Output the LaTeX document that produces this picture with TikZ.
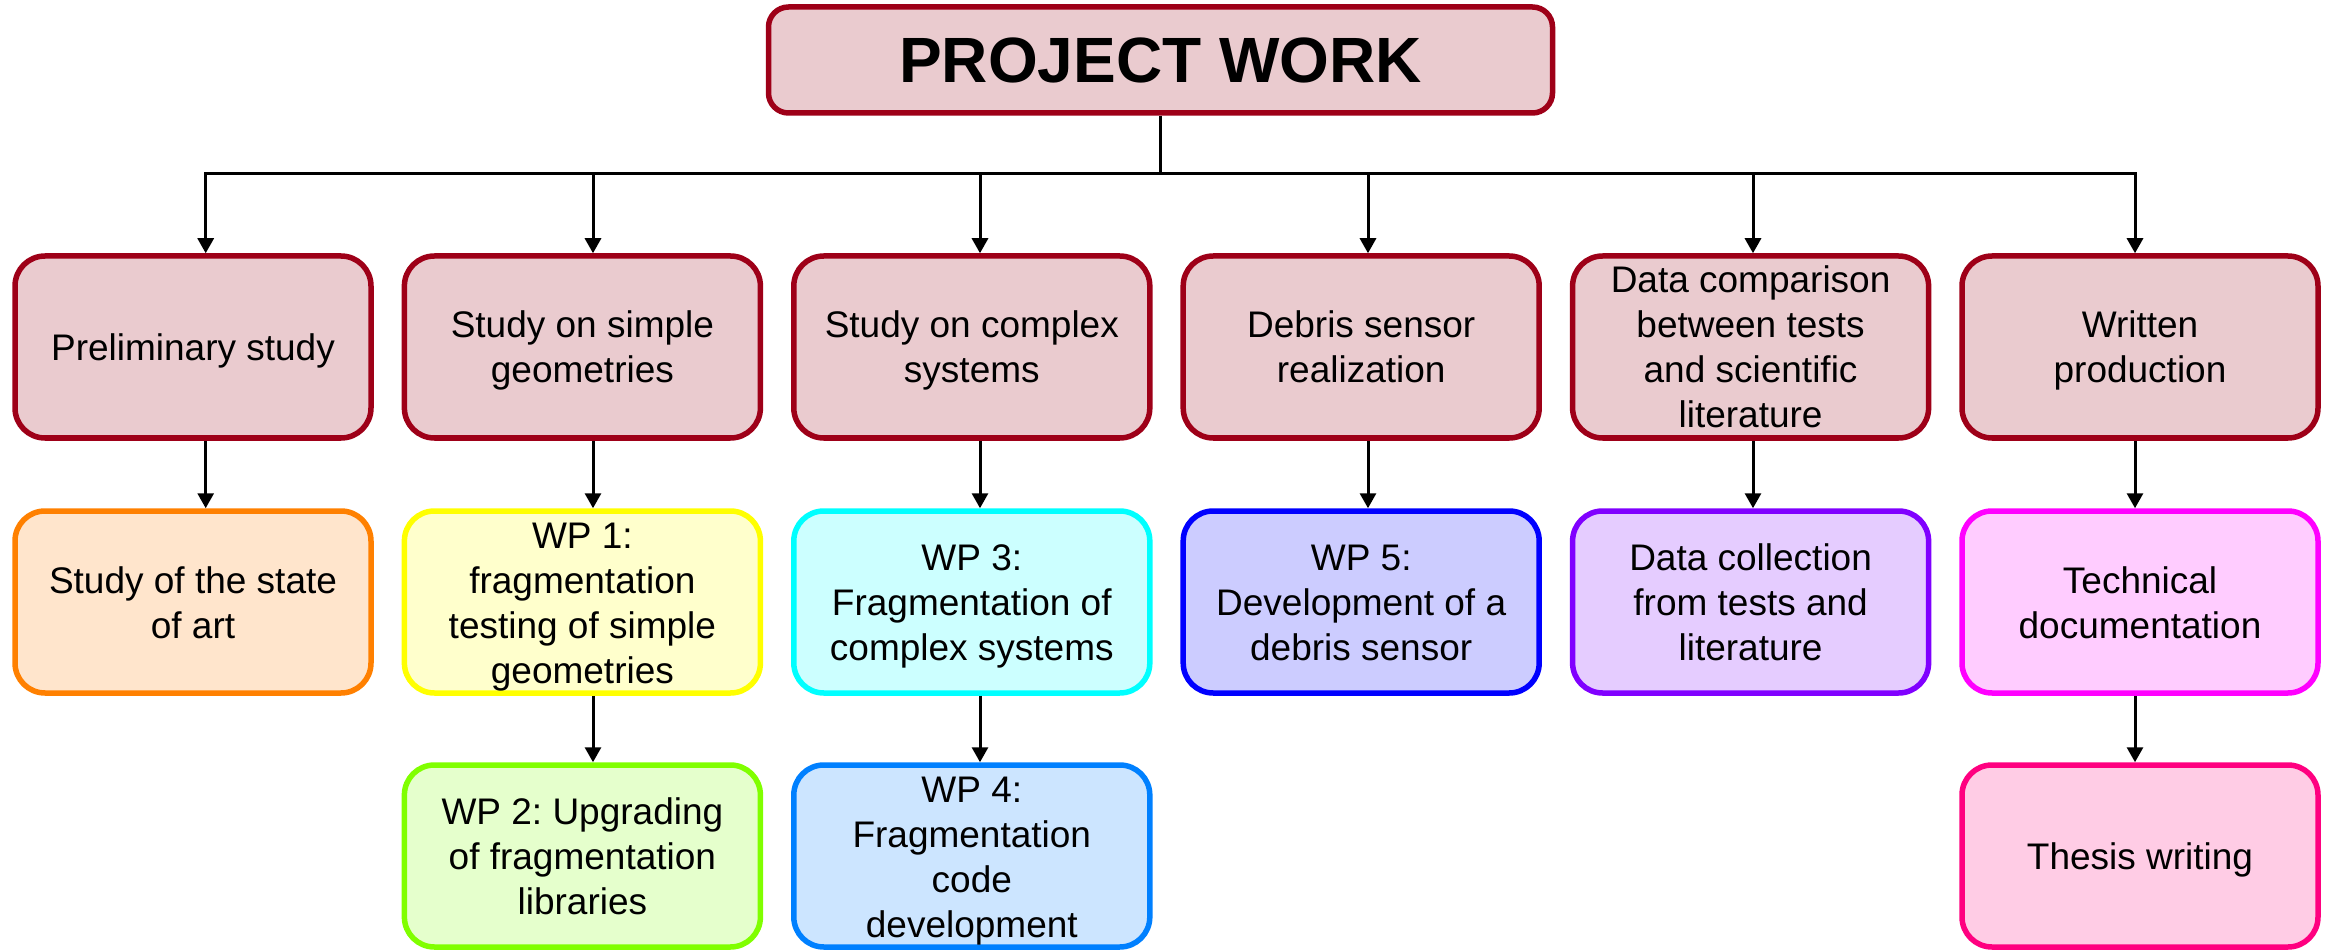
\documentclass[tikz,border=0pt]{standalone}
\usepackage{fontspec}
\setmainfont{Liberation Sans}
\usetikzlibrary{arrows.meta,calc}
\frenchspacing
\newcommand\topst{\rule{0pt}{17.6pt}}
\newcommand\botst{\rule[-4.1pt]{0pt}{4.1pt}}
\definecolor{topfill}{HTML}{EACBCF}
\definecolor{topdraw}{HTML}{9E0018}
\definecolor{orfill}{HTML}{FFE5CC}\definecolor{ordraw}{HTML}{FF8000}
\definecolor{yefill}{HTML}{FFFFCC}\definecolor{yedraw}{HTML}{FFFF00}
\definecolor{grfill}{HTML}{E5FFCC}\definecolor{grdraw}{HTML}{80FF00}
\definecolor{cyfill}{HTML}{CCFFFF}\definecolor{cydraw}{HTML}{00FFFF}
\definecolor{skfill}{HTML}{CCE5FF}\definecolor{skdraw}{HTML}{0080FF}
\definecolor{blfill}{HTML}{CCCCFF}\definecolor{bldraw}{HTML}{0000FF}
\definecolor{vifill}{HTML}{E5CCFF}\definecolor{vidraw}{HTML}{8000FF}
\definecolor{mafill}{HTML}{FFCCFF}\definecolor{madraw}{HTML}{FF00FF}
\definecolor{pkfill}{HTML}{FFCCE5}\definecolor{pkdraw}{HTML}{FF0080}
\begin{document}
\begin{tikzpicture}[x=0.5pt,y=-0.5pt,
  box/.style={rectangle,rounded corners=15pt,line width=2.75pt,
    minimum width=178pt,minimum height=91pt,inner sep=0pt,align=center,
    font=\frenchspacing\fontsize{18.5pt}{22.5pt}\selectfont},
  stage/.style={box,fill=topfill,draw=topdraw},
  conn/.style={line width=1.5pt,black},
  arr/.style={conn,-{Triangle[length=7.5pt,width=8pt]}}]
\useasboundingbox (0,0) rectangle (2331,952);
\node[rectangle,rounded corners=10pt,line width=2.75pt,fill=topfill,draw=topdraw,
  minimum width=392pt,minimum height=53pt,inner sep=0pt,
  font=\bfseries\fontsize{32pt}{38pt}\selectfont] (title) at (1160.5,60) {PROJECT WORK};

\node[stage] (p1) at (193,347) {\topst Preliminary study\botst};
\node[stage] (p2) at (582.4,347) {\topst Study on simple\\geometries\botst};
\node[stage] (p3) at (971.8,347) {\topst Study on complex\\systems\botst};
\node[stage] (p4) at (1361.2,347) {\topst Debris sensor\\realization\botst};
\node[stage] (p5) at (1750.6,347) {\topst Data comparison\\between tests\\and scientific\\literature\botst};
\node[stage] (p6) at (2140,347) {\topst Written\\production\botst};

\node[box,fill=orfill,draw=ordraw] (c1) at (193,602) {\topst Study of the state\\of art\botst};
\node[box,fill=yefill,draw=yedraw] (c2) at (582.4,602) {\topst WP 1:\\fragmentation\\testing of simple\\geometries\botst};
\node[box,fill=cyfill,draw=cydraw] (c3) at (971.8,602) {\topst WP 3:\\Fragmentation of\\complex systems\botst};
\node[box,fill=blfill,draw=bldraw] (c4) at (1361.2,602) {\topst WP 5:\\Development of a\\debris sensor\botst};
\node[box,fill=vifill,draw=vidraw] (c5) at (1750.6,602) {\topst Data collection\\from tests and\\literature\botst};
\node[box,fill=mafill,draw=madraw] (c6) at (2140,602) {\topst Technical\\documentation\botst};

\node[box,fill=grfill,draw=grdraw] (d2) at (582.4,856) {\topst WP 2: Upgrading\\of fragmentation\\libraries\botst};
\node[box,fill=skfill,draw=skdraw] (d3) at (971.8,856) {\topst WP 4:\\Fragmentation\\code\\development\botst};
\node[box,fill=pkfill,draw=pkdraw] (d6) at (2140,856) {\topst Thesis writing\botst};

\coordinate (x1) at (205.7,174);
\coordinate (x2) at (593,174);
\coordinate (x3) at (980,174);
\coordinate (x4) at (1368,174);
\coordinate (x5) at (1753,174);
\coordinate (x6) at (2135,174);

\draw[conn] (title.south) -- (title.south |- x1);
\draw[arr] (x3) -- (x1) -- (x1 |- p1.north);
\draw[arr] (x4) -- (x6) -- (x6 |- p6.north);
\draw[conn] (x3) -- (x4);
\draw[arr] (x2) -- (x2 |- p2.north);
\draw[arr] (x3) -- (x3 |- p3.north);
\draw[arr] (x4) -- (x4 |- p4.north);
\draw[arr] (x5) -- (x5 |- p5.north);

\draw[arr] (x1 |- p1.south) -- (x1 |- c1.north);
\draw[arr] (x2 |- p2.south) -- (x2 |- c2.north);
\draw[arr] (x3 |- p3.south) -- (x3 |- c3.north);
\draw[arr] (x4 |- p4.south) -- (x4 |- c4.north);
\draw[arr] (x5 |- p5.south) -- (x5 |- c5.north);
\draw[arr] (x6 |- p6.south) -- (x6 |- c6.north);

\draw[arr] (x2 |- c2.south) -- (x2 |- d2.north);
\draw[arr] (x3 |- c3.south) -- (x3 |- d3.north);
\draw[arr] (x6 |- c6.south) -- (x6 |- d6.north);
\end{tikzpicture}
\end{document}
